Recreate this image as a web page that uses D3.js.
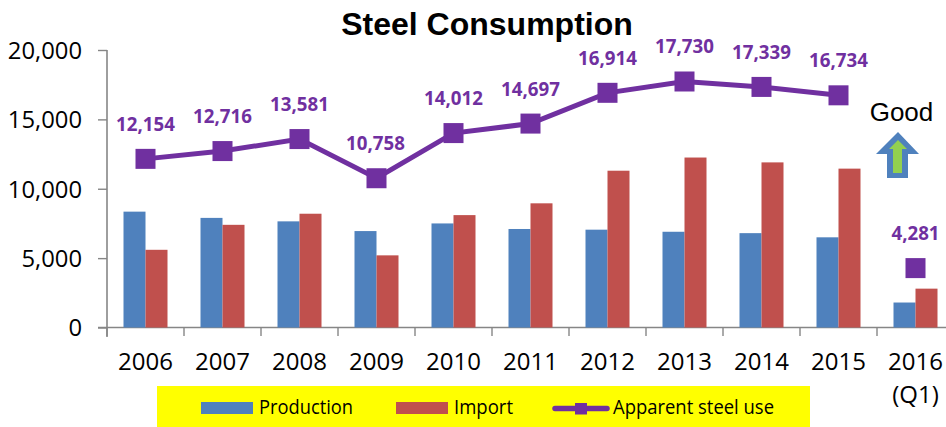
<!DOCTYPE html>
<html><head><meta charset="utf-8">
<script src="https://cdn.jsdelivr.net/npm/d3@7"></script>
<style>html,body{margin:0;padding:0;background:#fff;overflow:hidden}svg{display:block}</style>
</head><body><svg id="c" width="946" height="427"></svg>
<script>
const categories=["2006","2007","2008","2009","2010","2011","2012","2013","2014","2015","2016"];
const production=[8350,7900,7650,6950,7500,7100,7050,6900,6800,6500,1800];
const imports=[5600,7400,8200,5200,8100,8950,11300,12250,11900,11450,2800];
const steelUse=[12154,12716,13581,10758,14012,14697,16914,17730,17339,16734,4281];
const lineBreakAfter=9;
const yTicks=[0,5000,10000,15000,20000];
const FONT="'Open Sans',sans-serif";
const svg=d3.select("#c");
const x=d3.scaleBand().domain(categories).range([107,954]);
const y=d3.scaleLinear().domain([0,20000]).range([327.5,50]);
const barW=22;
const PURPLE="#7030A0",BLUE="#4F81BD",RED="#C0504D",AXIS="#868686";
const cx=c=>x(c)+x.bandwidth()/2;

svg.append("text").attr("x",487).attr("y",35).attr("text-anchor","middle")
  .attr("font-family","'Liberation Sans',sans-serif").attr("font-weight","bold").attr("font-size",32).text("Steel Consumption");

const yAxis=d3.axisLeft(y).tickValues(yTicks).tickSize(9).tickPadding(3).tickFormat(d3.format(","));
const gy=svg.append("g").attr("transform","translate(107,0)").call(yAxis);
const xAxis=d3.axisBottom(x).tickValues([]).tickSize(0);
const gx=svg.append("g").attr("transform","translate(0,327.5)").call(xAxis);
[gy,gx].forEach(g=>{g.selectAll(".domain").attr("stroke",AXIS).attr("stroke-width",1.6);
  g.selectAll(".tick line").attr("stroke",AXIS).attr("stroke-width",1.4);
  g.selectAll("text").attr("font-family",FONT).attr("font-size",23.8).attr("fill","#000");});
gy.select(".domain").attr("d","M0,50V337");
gy.selectAll(".tick text").attr("x",-25).attr("dy","0.35em");
gx.select(".domain").attr("d","M98,0H946");
svg.append("g").selectAll("line").data(categories).join("line")
  .attr("x1",d=>x(d)).attr("x2",d=>x(d)).attr("y1",327.5).attr("y2",336)
  .attr("stroke",AXIS).attr("stroke-width",1.4);

svg.append("g").selectAll("rect").data(categories).join("rect")
  .attr("x",d=>cx(d)-barW).attr("width",barW)
  .attr("y",(d,i)=>y(production[i])).attr("height",(d,i)=>y(0)-y(production[i])).attr("fill",BLUE);
svg.append("g").selectAll("rect").data(categories).join("rect")
  .attr("x",d=>cx(d)).attr("width",barW)
  .attr("y",(d,i)=>y(imports[i])).attr("height",(d,i)=>y(0)-y(imports[i])).attr("fill",RED);

const line=d3.line().x((d,i)=>cx(categories[i])).y(d=>y(d));
svg.append("path").attr("d",line(steelUse.slice(0,lineBreakAfter+1)))
  .attr("fill","none").attr("stroke",PURPLE).attr("stroke-width",5);
const ms=20;
svg.append("g").selectAll("rect").data(steelUse).join("rect")
  .attr("x",(d,i)=>cx(categories[i])-ms/2).attr("y",d=>y(d)-ms/2)
  .attr("width",ms).attr("height",ms).attr("fill",PURPLE);
svg.append("g").selectAll("text").data(steelUse).join("text")
  .attr("x",(d,i)=>cx(categories[i])+(i==3?-1:0)).attr("y",d=>y(d)-28)
  .attr("text-anchor","middle").attr("font-family",FONT).attr("font-weight","bold")
  .attr("font-size",18.7).attr("fill",PURPLE).text(d3.format(","));

svg.append("g").selectAll("text").data(categories).join("text")
  .attr("x",d=>cx(d)).attr("y",370).attr("text-anchor","middle")
  .attr("font-family",FONT).attr("font-size",24).text(d=>d);
svg.append("text").attr("x",cx("2016")).attr("y",403).attr("text-anchor","middle")
  .attr("font-family",FONT).attr("font-size",24).text("(Q1)");

svg.append("text").attr("x",901.5).attr("y",121).attr("text-anchor","middle")
  .attr("font-family","'Liberation Sans',sans-serif").attr("font-size",26).text("Good");
svg.append("path").attr("d","M898,132L919,154H908V178H887V154H876Z").attr("fill",BLUE);
svg.append("path").attr("d","M898,140L907,149H902V173H893V149H889Z").attr("fill","#92D050");

svg.append("rect").attr("x",157).attr("y",386).attr("width",653).attr("height",41).attr("fill","#FFFF00");
svg.append("rect").attr("x",201).attr("y",402).attr("width",52).attr("height",12).attr("fill",BLUE);
svg.append("rect").attr("x",396).attr("y",402).attr("width",52).attr("height",12).attr("fill",RED);
svg.append("line").attr("x1",555).attr("x2",607).attr("y1",408.5).attr("y2",408.5)
  .attr("stroke",PURPLE).attr("stroke-width",5.5).attr("stroke-linecap","round");
svg.append("rect").attr("x",575).attr("y",403).attr("width",12).attr("height",11.5).attr("fill",PURPLE);
[["Production",259,94],["Import",454,59],["Apparent steel use",613,161]].forEach(([t,px,len])=>
  svg.append("text").attr("x",px).attr("y",413.5).attr("font-family",FONT).attr("font-size",19.5)
    .attr("textLength",len).attr("lengthAdjust","spacingAndGlyphs").text(t));
</script></body></html>
